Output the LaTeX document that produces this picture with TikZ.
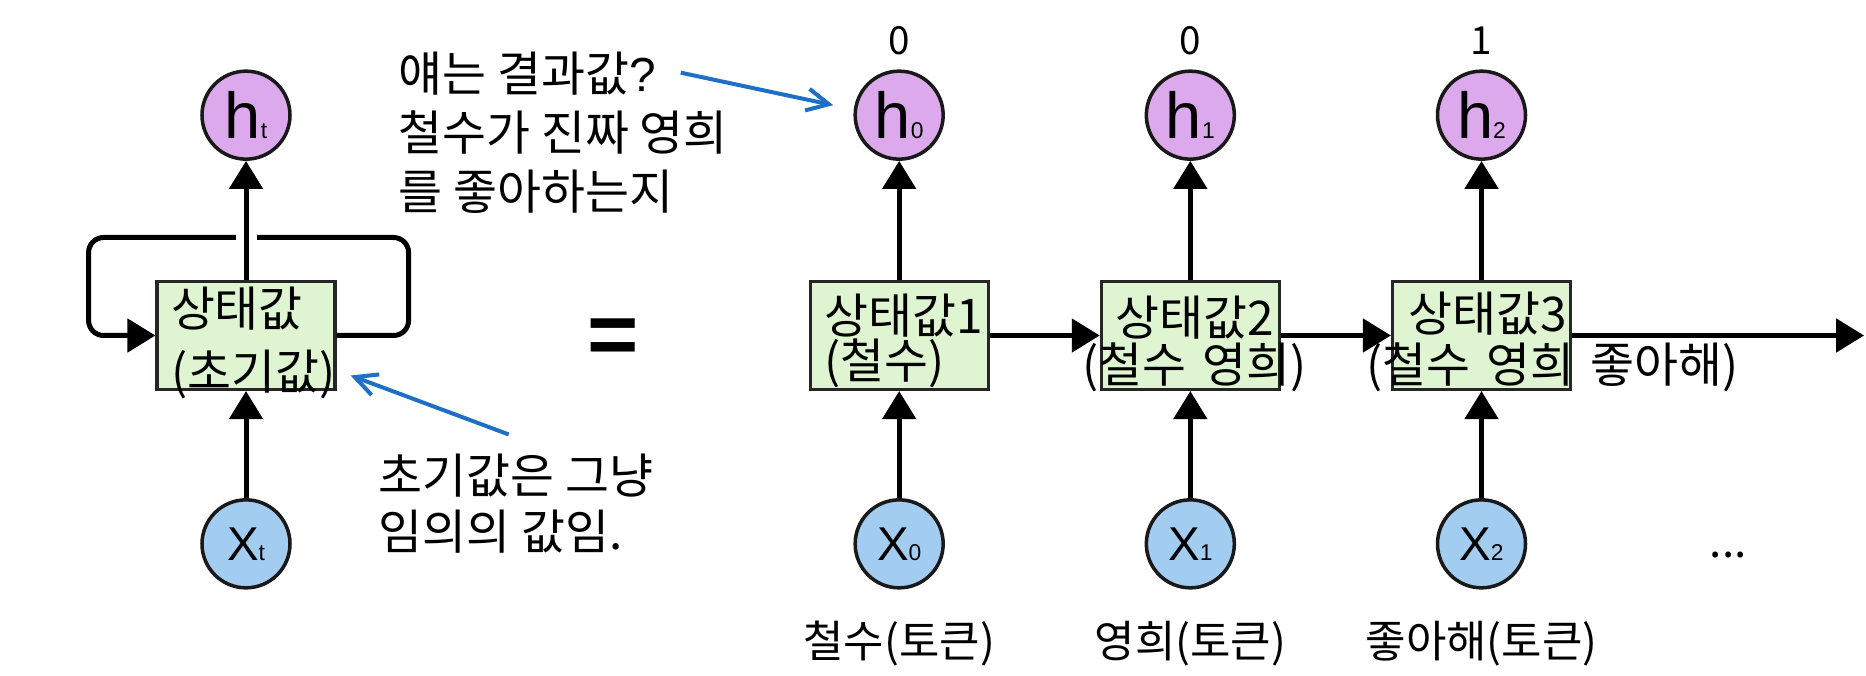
\documentclass[tikz,border=0pt]{standalone}
\usepackage{fontspec}
\setmainfont{Noto Sans CJK KR}
\newfontfamily\latinfont{Liberation Sans}
\usetikzlibrary{arrows.meta,positioning,calc}

\definecolor{statefill}{RGB}{223,245,210}
\definecolor{hfill}{RGB}{220,170,236}
\definecolor{xfill}{RGB}{162,205,240}
\definecolor{noteblue}{RGB}{31,111,197}
\newcommand{\tidx}[1]{{\fontsize{6.5pt}{6.5pt}\selectfont #1}}

\begin{document}
\begin{tikzpicture}[
    state/.style={rectangle, draw=black!85, line width=0.9pt, fill=statefill, minimum width=1.78cm, minimum height=1.08cm, inner sep=0pt},
    stext/.style={text width=1.50cm, inner sep=0pt, align=left, font=\fontsize{13.6pt}{13.4pt}\selectfont},
    hid/.style={circle, draw=black!90, line width=1pt, fill=hfill, minimum size=0.88cm, inner sep=0pt, font=\latinfont\fontsize{18.5pt}{18.5pt}\selectfont},
    xin/.style={hid, fill=xfill, font=\latinfont\fontsize{13.5pt}{13.5pt}\selectfont},
    note/.style={inner sep=0pt, align=left, font=\fontsize{13.6pt}{16.8pt}\selectfont},
    val/.style={inner sep=0pt, font=\fontsize{11pt}{11pt}\selectfont},
    tok/.style={inner sep=0pt, font=\fontsize{12.5pt}{12.5pt}\selectfont},
    arrow/.style={-{Triangle[length=0.28cm, width=0.33cm]}, line width=0.05cm},
    pointer/.style={-{Straight Barb[length=0.22cm, width=0.22cm]}, line width=0.04cm, draw=noteblue},
    node distance=1.1cm
]
\useasboundingbox (0,0) rectangle (18.66,-6.76);

% folded cell
\node[state] (s0) at (2.46,-3.355) {};
\node[stext, yshift=-0.07cm] (s0t) at (s0) {상태값\\[0.16cm](초기값)};
\node[hid, above=1.19cm of s0] (ht) {h\tidx{t}};
\node[xin, below=1.07cm of s0] (xt) {X\tidx{t}};
\node[inner sep=0pt, font=\latinfont\bfseries\fontsize{25pt}{25pt}\selectfont, right=2.5cm of s0, yshift=-0.06cm] (eq) {=};

% unrolled cells
\node[state, right=4.72cm of s0] (s1) {};
\node[state, right=of s1] (s2) {};
\node[state, right=of s2] (s3) {};
\node[stext, yshift=-0.05cm] (s1t) at (s1) {상태값1\\[-0.02cm](철수)};
\node[stext, yshift=-0.08cm] (s2t) at (s2) {상태값2\\\hspace*{-0.33cm}\mbox{(철수 영희)}};
\node[stext, yshift=-0.06cm] (s3t) at (s3) {\hspace*{0.02cm}상태값3\\[0.04cm]\hspace*{-0.40cm}\mbox{(철수 영희 좋아해)}};
\coordinate[right=2.92cm of s3] (out);

\node[hid, above=1.19cm of s1] (h0) {h\tidx{0}};
\node[hid, above=1.19cm of s2] (h1) {h\tidx{1}};
\node[hid, above=1.19cm of s3] (h2) {h\tidx{2}};
\node[xin, below=1.07cm of s1] (x0) {X\tidx{0}};
\node[xin, below=1.07cm of s2] (x1) {X\tidx{1}};
\node[xin, below=1.07cm of s3] (x2) {X\tidx{2}};

\node[val, above=0.14cm of h0] (v0) {0};
\node[val, above=0.14cm of h1] (v1) {0};
\node[val, above=0.14cm of h2] (v2) {1};
\node[tok, below=0.31cm of x0] (t0) {철수(토큰)};
\node[tok, below=0.31cm of x1] (t1) {영희(토큰)};
\node[tok, below=0.31cm of x2] (t2) {좋아해(토큰)};
\node[tok, right=1.82cm of x2, yshift=-0.11cm] (more) {...};

% notes
\node[note, right=1.06cm of ht, yshift=-0.18cm] (q) {얘는 결과값{\latinfont ?}\\철수가 진짜 영희\\를 좋아하는지};
\node[note, right=0.86cm of xt, yshift=0.40cm] (n) {초기값은 그냥\\[-0.03cm]임의의 값임.};
\coordinate (qa) at ($(q.north west)+(2.83,-0.21)$);
\coordinate (na) at ($(n.north)+(-0.07,0.19)$);

\draw[arrow] (xt) -- (s0);
\draw[arrow, rounded corners=0.15cm] (s0.east) -- ++(0.72,0) -- ++(0,0.98) -- ++(-3.20,0) -- ++(0,-0.98) -- (s0.west);
\draw[white, line width=0.21cm] ([yshift=0.34cm]s0.north) -- ([yshift=0.55cm]s0.north);
\draw[arrow] (s0) -- (ht);

\draw[arrow] (x0) -- (s1);
\draw[arrow] (x1) -- (s2);
\draw[arrow] (x2) -- (s3);
\draw[arrow] (s1) -- (h0);
\draw[arrow] (s2) -- (h1);
\draw[arrow] (s3) -- (h2);
\draw[arrow] (s1) -- (s2);
\draw[arrow] (s2) -- (s3);
\draw[arrow] (s3) -- (out);

\draw[pointer, shorten >=0.21cm] (qa) -- (h0.173);
\draw[pointer, shorten >=0.15cm] (na) -- (s0.-21);
\end{tikzpicture}
\end{document}
